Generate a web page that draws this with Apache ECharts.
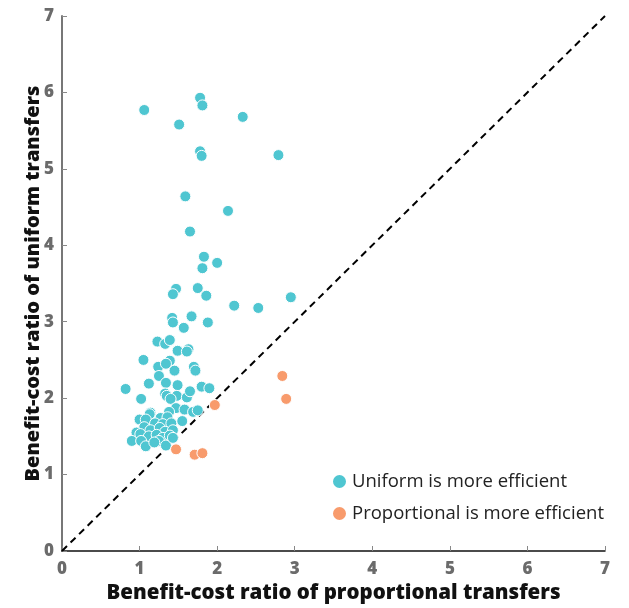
<!DOCTYPE html>
<html>
<head>
<meta charset="utf-8">
<script src="https://cdn.jsdelivr.net/npm/echarts@6/dist/echarts.min.js"></script>
<style>
  html, body { margin: 0; padding: 0; background: #fff; }
  #chart { width: 629px; height: 608px; }
</style>
</head>
<body>
<div id="chart"></div>
<script>
// benefit-cost ratios: [proportional, uniform]
const uniformBetter = [
  [1.06, 5.77], [1.78, 5.93], [1.81, 5.83], [2.33, 5.68], [1.51, 5.58],
  [1.78, 5.23], [1.80, 5.17], [2.79, 5.18], [1.59, 4.64], [2.14, 4.45],
  [1.65, 4.18], [1.83, 3.85], [2.00, 3.77], [1.81, 3.70], [1.47, 3.43],
  [1.43, 3.36], [1.75, 3.44], [1.86, 3.34], [2.22, 3.21], [2.53, 3.18],
  [2.95, 3.32], [1.42, 3.05], [1.43, 2.99], [1.67, 3.07], [1.57, 2.92],
  [1.88, 2.99], [1.23, 2.74], [1.33, 2.71], [1.39, 2.76], [1.49, 2.62],
  [1.63, 2.64], [1.61, 2.61], [1.05, 2.50], [1.24, 2.41], [1.39, 2.49],
  [1.34, 2.45], [1.45, 2.36], [1.70, 2.41], [1.72, 2.36], [0.82, 2.12],
  [1.12, 2.19], [1.25, 2.29], [1.34, 2.20], [1.49, 2.17], [1.33, 2.06],
  [1.35, 2.03], [1.48, 2.03], [1.40, 1.99], [1.61, 2.01], [1.65, 2.09],
  [1.80, 2.15], [1.90, 2.13], [1.02, 1.99], [1.47, 1.87], [1.58, 1.85],
  [1.69, 1.82], [1.75, 1.84], [1.14, 1.81], [1.13, 1.79], [1.38, 1.82],
  [1.00, 1.72], [1.08, 1.72], [1.27, 1.74], [1.36, 1.75], [1.20, 1.67],
  [1.30, 1.66], [1.41, 1.67], [1.55, 1.70], [1.06, 1.62], [1.14, 1.58],
  [1.26, 1.61], [1.33, 1.56], [1.43, 1.58], [0.96, 1.55], [1.01, 1.53],
  [1.12, 1.50], [1.22, 1.52], [1.30, 1.48], [1.39, 1.51], [0.90, 1.44],
  [1.02, 1.44], [1.08, 1.37], [1.25, 1.44], [1.34, 1.38], [1.43, 1.48],
  [1.19, 1.42]
];
const proportionalBetter = [
  [1.97, 1.91], [1.47, 1.33], [1.71, 1.26], [1.81, 1.28], [2.84, 2.29], [2.89, 1.99]
];
const parityLine = [[0, 0], [7, 7]];
const axisTicks = [0, 1, 2, 3, 4, 5, 6, 7];

const chart = echarts.init(document.getElementById('chart'));

const tickLabel = { color: '#6b6b6b', fontSize: 17, fontWeight: 800, fontFamily: 'Open Sans' };
const axisName = { color: '#111', fontSize: 20.5, fontWeight: 800, fontFamily: 'Open Sans' };

chart.setOption({
  animation: false,
  backgroundColor: '#fff',
  grid: { left: 62, right: 24, top: 16, bottom: 57, outerBoundsMode: 'none' },
  legend: {
    orient: 'vertical',
    left: 326,
    top: 467,
    itemGap: 13,
    itemWidth: 15,
    itemHeight: 15,
    textStyle: { color: '#222', fontSize: 18.5, fontFamily: 'Open Sans' },
    data: [
      { name: 'Uniform is more efficient', icon: 'circle' },
      { name: 'Proportional is more efficient', icon: 'circle' }
    ]
  },
  xAxis: {
    type: 'value',
    min: axisTicks[0],
    max: axisTicks[axisTicks.length - 1],
    interval: 1,
    name: 'Benefit-cost ratio of proportional transfers',
    nameLocation: 'middle',
    nameGap: 32,
    nameMoveOverlap: false,
    nameTextStyle: axisName,
    splitLine: { show: false },
    axisLine: { lineStyle: { color: '#111', width: 1.5 } },
    axisTick: { show: true, inside: true, length: 5, lineStyle: { color: '#888' } },
    axisLabel: Object.assign({ margin: 10 }, tickLabel)
  },
  yAxis: {
    type: 'value',
    min: axisTicks[0],
    max: axisTicks[axisTicks.length - 1],
    interval: 1,
    name: 'Benefit-cost ratio of uniform transfers',
    nameLocation: 'middle',
    nameGap: 19,
    nameMoveOverlap: false,
    nameTextStyle: Object.assign({}, axisName, { fontSize: 20 }),
    splitLine: { show: false },
    axisLine: { show: true, lineStyle: { color: '#777', width: 2 } },
    axisTick: { show: true, inside: true, length: 5, lineStyle: { color: '#888' } },
    axisLabel: Object.assign({ margin: 8 }, tickLabel)
  },
  series: [
    {
      name: 'parity',
      type: 'line',
      data: parityLine,
      symbol: 'none',
      silent: true,
      lineStyle: { color: '#000', width: 2, type: [7, 5] },
      z: 1
    },
    {
      name: 'Uniform is more efficient',
      type: 'scatter',
      data: uniformBetter,
      symbolSize: 11,
      itemStyle: { color: '#4fc6d1', borderColor: '#fff', borderWidth: 1, opacity: 1 },
      z: 3
    },
    {
      name: 'Proportional is more efficient',
      type: 'scatter',
      data: proportionalBetter,
      symbolSize: 11,
      itemStyle: { color: '#f89b6c', borderColor: '#fff', borderWidth: 1, opacity: 1 },
      z: 3
    }
  ]
});
</script>
</body>
</html>
